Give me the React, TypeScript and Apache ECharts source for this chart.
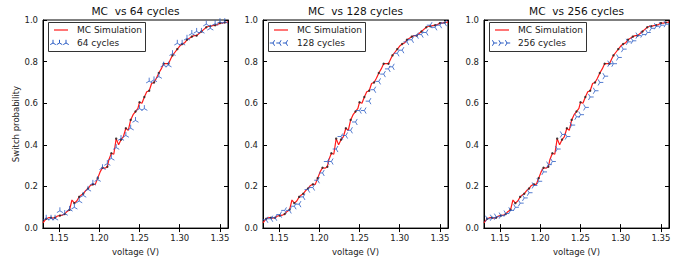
import React, { useEffect, useRef } from "react";
import * as echarts from "echarts";

// Voltages at which the cycle-based estimates (and MC sample dots) are plotted
const voltage = [
  1.134, 1.14, 1.145, 1.151, 1.157, 1.163, 1.169, 1.175, 1.18, 1.186,
  1.192, 1.198, 1.204, 1.21, 1.215, 1.221, 1.227, 1.233, 1.239, 1.245,
  1.25, 1.256, 1.262, 1.268, 1.274, 1.28, 1.286, 1.291, 1.297, 1.303,
  1.309, 1.315, 1.321, 1.327, 1.333, 1.338, 1.344, 1.35, 1.356,
];

// MC simulation curve (red line)
const mcVoltage = [
  1.13, 1.134, 1.137, 1.14, 1.142, 1.145, 1.148, 1.151, 1.154, 1.157,
  1.16, 1.163, 1.166, 1.169, 1.172, 1.175, 1.178, 1.18, 1.183, 1.186,
  1.189, 1.192, 1.195, 1.198, 1.201, 1.204, 1.207, 1.21, 1.212, 1.215,
  1.218, 1.221, 1.224, 1.227, 1.23, 1.233, 1.236, 1.239, 1.242, 1.245,
  1.248, 1.25, 1.253, 1.256, 1.259, 1.262, 1.265, 1.268, 1.271, 1.274,
  1.277, 1.28, 1.283, 1.286, 1.289, 1.291, 1.294, 1.297, 1.3, 1.303,
  1.306, 1.309, 1.312, 1.315, 1.318, 1.321, 1.324, 1.327, 1.33, 1.333,
  1.336, 1.338, 1.341, 1.344, 1.347, 1.35, 1.353, 1.356, 1.36,
];
const mcProb = [
  0.025, 0.045, 0.05, 0.05, 0.048, 0.05, 0.058, 0.06, 0.062, 0.068,
  0.08, 0.088, 0.135, 0.12, 0.13, 0.15, 0.16, 0.165, 0.18, 0.19,
  0.205, 0.21, 0.21, 0.24, 0.27, 0.29, 0.288, 0.295, 0.33, 0.36,
  0.355, 0.43, 0.4, 0.425, 0.44, 0.48, 0.47, 0.52, 0.545, 0.56,
  0.575, 0.605, 0.6, 0.63, 0.655, 0.66, 0.695, 0.7, 0.72, 0.745,
  0.765, 0.79, 0.79, 0.79, 0.815, 0.83, 0.845, 0.86, 0.875, 0.885,
  0.89, 0.905, 0.912, 0.92, 0.925, 0.925, 0.935, 0.945, 0.955, 0.965,
  0.97, 0.97, 0.973, 0.975, 0.978, 0.985, 0.985, 0.988, 0.99,
];
// MC sample points (black dots) at the voltage grid
const mcDotProb = [
  0.045, 0.05, 0.05, 0.06, 0.068, 0.088, 0.12, 0.15, 0.165, 0.19,
  0.21, 0.24, 0.29, 0.295, 0.36, 0.43, 0.425, 0.48, 0.52, 0.56,
  0.605, 0.63, 0.66, 0.7, 0.745, 0.79, 0.79, 0.83, 0.86, 0.885,
  0.905, 0.92, 0.925, 0.945, 0.965, 0.97, 0.975, 0.985, 0.988,
];

// Cycle-based estimates (blue tri markers)
const cycles64 = [
  0.047, 0.047, 0.047, 0.083, 0.07, 0.09, 0.1, 0.13, 0.157, 0.186,
  0.215, 0.233, 0.29, 0.31, 0.335, 0.387, 0.43, 0.445, 0.48, 0.517,
  0.574, 0.574, 0.706, 0.712, 0.728, 0.783, 0.783, 0.838, 0.888, 0.888,
  0.912, 0.935, 0.945, 0.945, 0.98, 0.96, 0.983, 0.992, 0.992,
];
const cycles128 = [
  0.04, 0.045, 0.05, 0.065, 0.085, 0.085, 0.105, 0.115, 0.15, 0.185,
  0.195, 0.23, 0.265, 0.32, 0.32, 0.38, 0.44, 0.445, 0.47, 0.51,
  0.565, 0.565, 0.61, 0.665, 0.705, 0.74, 0.765, 0.775, 0.84, 0.855,
  0.895, 0.905, 0.925, 0.93, 0.94, 0.975, 0.965, 0.975, 0.985,
];
const cycles256 = [
  0.045, 0.05, 0.055, 0.06, 0.07, 0.085, 0.1, 0.12, 0.145, 0.17,
  0.205, 0.225, 0.27, 0.305, 0.32, 0.38, 0.45, 0.44, 0.495, 0.535,
  0.545, 0.58, 0.63, 0.66, 0.7, 0.73, 0.79, 0.79, 0.82, 0.86,
  0.895, 0.9, 0.925, 0.93, 0.94, 0.96, 0.97, 0.975, 0.98,
];

const panelTitles = ["MC  vs 64 cycles", "MC  vs 128 cycles", "MC  vs 256 cycles"];
const cycleNames = ["64 cycles", "128 cycles", "256 cycles"];
const mcName = "MC Simulation";
const xTicks = [1.15, 1.2, 1.25, 1.3, 1.35];
const xLabel = "voltage (V)";
const yLabel = "Switch probability";

const FONT = "DejaVu Sans";
const TXT = "#222";
const BLUE = "#2a5cc4";
const RED = "#ff1a1a";
const TOP = 19;
const W = 185;
const H = 212;
const LEFTS = [43, 263, 484];
const DIRS = ["up", "left", "right"];

const triPaths: Record<string, string> = {
  up: "path://M0,0L0,-1M0,0L-0.866,0.5M0,0L0.866,0.5M-1,-1L-1,-1M1,1L1,1",
  left: "path://M0,0L-1,0M0,0L0.5,-0.866M0,0L0.5,0.866M-1,-1L-1,-1M1,1L1,1",
  right: "path://M0,0L1,0M0,0L-0.5,-0.866M0,0L-0.5,0.866M-1,-1L-1,-1M1,1L1,1",
};

function triEnds(dir: string): number[][] {
  if (dir === "up") return [[0, -1], [-0.866, 0.5], [0.866, 0.5]];
  if (dir === "left") return [[-1, 0], [0.5, -0.866], [0.5, 0.866]];
  return [[1, 0], [-0.5, -0.866], [-0.5, 0.866]];
}

function legendGraphics(L: number, name: string, dir: string) {
  const els: any[] = [];
  const bx = L + 5;
  const by = TOP + 3;
  els.push({
    type: "rect",
    shape: { x: bx + 0.5, y: by + 0.5, width: 97, height: 29 },
    style: { fill: "#fff", stroke: "#333", lineWidth: 1 },
    z: 10,
  });
  els.push({
    type: "line",
    shape: { x1: L + 11, y1: TOP + 11, x2: L + 25, y2: TOP + 11 },
    style: { stroke: RED, lineWidth: 1.2 },
    z: 11,
  });
  els.push({
    type: "text",
    x: L + 34,
    y: TOP + 11,
    style: { text: mcName, fontSize: 9, fontFamily: FONT, fill: TXT, verticalAlign: "middle" },
    z: 11,
  });
  const r = 3.2;
  [L + 10, L + 16.5, L + 23].forEach((cx) => {
    const cy = TOP + 24;
    triEnds(dir).forEach(([dx, dy]) => {
      els.push({
        type: "line",
        shape: { x1: cx, y1: cy, x2: cx + dx * r, y2: cy + dy * r },
        style: { stroke: BLUE, lineWidth: 1 },
        z: 11,
      });
    });
  });
  els.push({
    type: "text",
    x: L + 34,
    y: TOP + 24,
    style: { text: name, fontSize: 9, fontFamily: FONT, fill: TXT, verticalAlign: "middle" },
    z: 11,
  });
  return els;
}

export default function App() {
  const ref = useRef<HTMLDivElement>(null);
  useEffect(() => {
    if (!ref.current) return;
    const chart = echarts.init(ref.current, undefined, { renderer: "svg" });
    const cycleData = [cycles64, cycles128, cycles256];
    const grids: any[] = [];
    const xAxes: any[] = [];
    const yAxes: any[] = [];
    const series: any[] = [];
    let graphics: any[] = [];
    const tickStyle = { inside: true, length: 4, lineStyle: { color: "#000", width: 1 } };
    LEFTS.forEach((L, i) => {
      grids.push({
        left: L, top: TOP, width: W, height: H,
        show: true, borderColor: "#000", borderWidth: 1, backgroundColor: "#fff",
      });
      xAxes.push({
        type: "value", gridIndex: i, position: "bottom", min: 1.13, max: 1.36,
        axisLine: { show: true, lineStyle: { color: "#000", width: 1 } },
        axisTick: { ...tickStyle, customValues: xTicks },
        axisLabel: {
          customValues: xTicks, formatter: (v: number) => v.toFixed(2),
          fontSize: 8.5, fontFamily: FONT, color: TXT, margin: 5,
        },
        splitLine: { show: false },
        name: xLabel, nameLocation: "middle", nameGap: 14,
        nameTextStyle: { fontSize: 8.5, fontFamily: FONT, color: TXT },
      });
      xAxes.push({
        type: "value", gridIndex: i, position: "top", min: 1.13, max: 1.36,
        axisLine: { show: true, lineStyle: { color: "#000", width: 1 } },
        axisTick: { ...tickStyle, customValues: xTicks },
        axisLabel: { show: false },
        splitLine: { show: false },
        name: panelTitles[i], nameLocation: "middle", nameGap: 4,
        nameTextStyle: { fontSize: 10.6, fontFamily: FONT, color: "#111" },
      });
      yAxes.push({
        type: "value", gridIndex: i, position: "left", min: 0, max: 1, interval: 0.2,
        axisLine: { show: true, lineStyle: { color: "#000", width: 1 } },
        axisTick: tickStyle,
        axisLabel: {
          formatter: (v: number) => v.toFixed(1),
          fontSize: 8.5, fontFamily: FONT, color: TXT, margin: 5,
        },
        splitLine: { show: false },
        name: i === 0 ? yLabel : "", nameLocation: "middle", nameGap: 18,
        nameTextStyle: { fontSize: 8.5, fontFamily: FONT, color: TXT },
      });
      yAxes.push({
        type: "value", gridIndex: i, position: "right", min: 0, max: 1, interval: 0.2,
        axisLine: { show: true, lineStyle: { color: "#000", width: 1 } },
        axisTick: tickStyle,
        axisLabel: { show: false },
        splitLine: { show: false },
      });
      series.push({
        type: "line", name: mcName, xAxisIndex: 2 * i, yAxisIndex: 2 * i,
        data: mcVoltage.map((v, k) => [v, mcProb[k]]),
        showSymbol: false, symbol: "none",
        lineStyle: { color: RED, width: 1.2 }, z: 2,
      });
      series.push({
        type: "scatter", name: "MC points", xAxisIndex: 2 * i, yAxisIndex: 2 * i,
        data: voltage.map((v, k) => [v, mcDotProb[k]]),
        symbol: "circle", symbolSize: 2.4,
        itemStyle: { color: "#222" }, z: 3,
      });
      series.push({
        type: "scatter", name: cycleNames[i], xAxisIndex: 2 * i, yAxisIndex: 2 * i,
        data: voltage.map((v, k) => [v, cycleData[i][k]]),
        symbol: triPaths[DIRS[i]], symbolSize: 7, symbolKeepAspect: true,
        itemStyle: { color: "transparent", borderColor: BLUE, borderWidth: 1 }, z: 4,
      });
      graphics = graphics.concat(legendGraphics(L, cycleNames[i], DIRS[i]));
    });
    chart.setOption({
      animation: false,
      backgroundColor: "#fff",
      grid: grids,
      xAxis: xAxes,
      yAxis: yAxes,
      series,
      graphic: graphics,
    });
    return () => chart.dispose();
  }, []);
  return (
    <div
      ref={ref}
      style={{ position: "absolute", left: 0, top: 0, width: 688, height: 261 }}
    />
  );
}
